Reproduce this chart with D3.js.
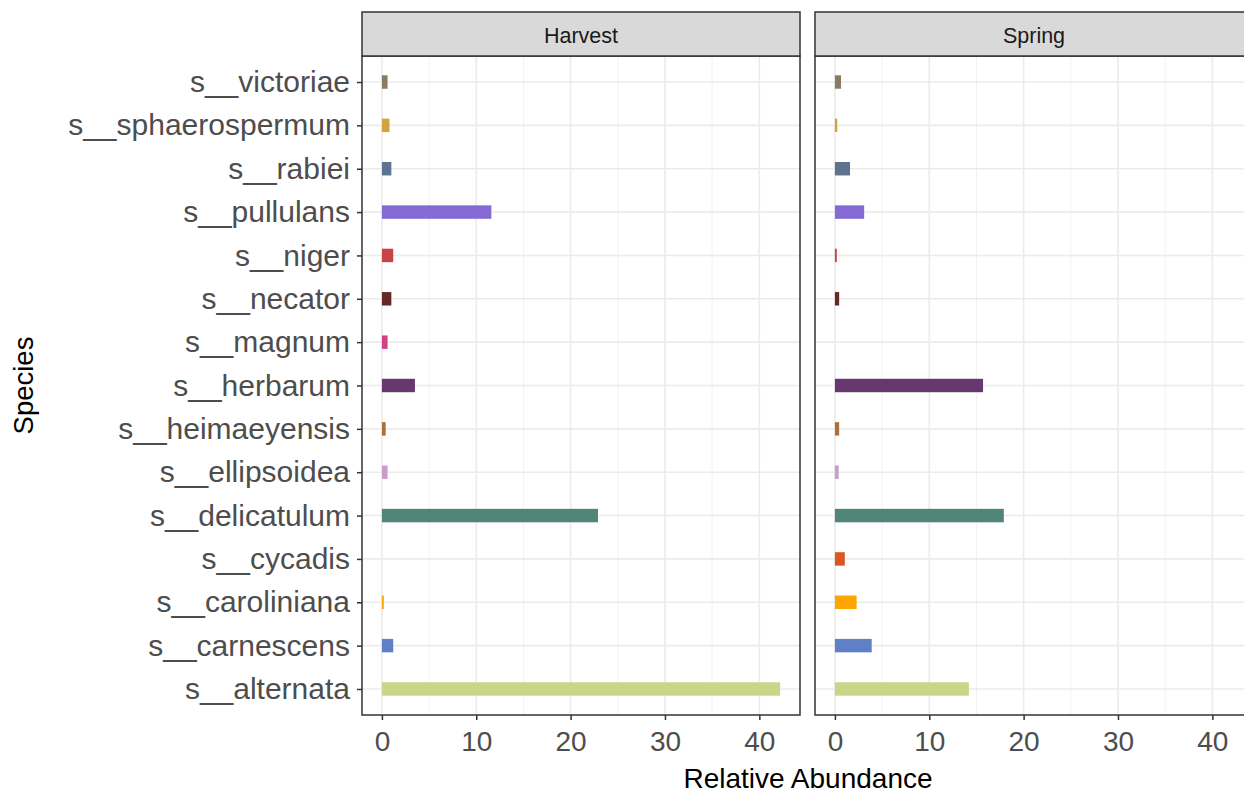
<!DOCTYPE html>
<html><head><meta charset="utf-8">
<script src="https://cdn.jsdelivr.net/npm/d3@7"></script>
<style>body{margin:0;background:#fff}svg{display:block;font-family:"Liberation Sans",Arial,sans-serif}</style>
</head><body><svg id="c" width="1244" height="794"></svg>
<script>
const species = ["s__alternata","s__carnescens","s__caroliniana","s__cycadis","s__delicatulum","s__ellipsoidea","s__heimaeyensis","s__herbarum","s__magnum","s__necator","s__niger","s__pullulans","s__rabiei","s__sphaerospermum","s__victoriae"];
const colors = ["#CBD588","#5F7FC7","#FFA500","#DA5724","#508578","#CD9BCD","#AD6F3B","#673770","#D14285","#652926","#C84248","#8569D5","#5E738F","#D1A33D","#8A7C64"];
const panels = ["Harvest","Spring"];
const harvest = [42.2,1.2,0.2,0,22.9,0.6,0.4,3.5,0.6,1.0,1.2,11.6,1.0,0.8,0.6];
const spring = [14.2,3.9,2.3,1.05,17.9,0.4,0.45,15.7,0,0.45,0.2,3.1,1.6,0.25,0.65];
const xTicks = [0,10,20,30,40];
const xMinor = [5,15,25,35];

const svg = d3.select("#c");
const panelW = 438, pTop = 56, pBottom = 715, stripTop = 12;
const lefts = [362, 815];
const y = d3.scalePoint().domain(species.slice().reverse()).range([pTop, pBottom]).padding(0.6);
const step = y.step();
const barH = step*0.31;
const series = [harvest, spring];
const FF = "Liberation Sans, Arial, sans-serif";

panels.forEach((p,pi)=>{
  const L = lefts[pi];
  const x = d3.scaleLinear().domain([-2.11, 44.31]).range([L, L+panelW]);
  const g = svg.append("g");
  g.append("rect").attr("x",L).attr("y",pTop).attr("width",panelW).attr("height",pBottom-pTop).attr("fill","#fff");
  g.selectAll(".mn").data(xMinor).join("line").attr("x1",d=>x(d)).attr("x2",d=>x(d)).attr("y1",pTop).attr("y2",pBottom).attr("stroke","#f2f2f2").attr("stroke-width",1);
  g.selectAll(".mj").data(xTicks).join("line").attr("x1",d=>x(d)).attr("x2",d=>x(d)).attr("y1",pTop).attr("y2",pBottom).attr("stroke","#ebebeb").attr("stroke-width",1.6);
  g.selectAll(".hy").data(species).join("line").attr("x1",L).attr("x2",L+panelW).attr("y1",d=>y(d)).attr("y2",d=>y(d)).attr("stroke","#ebebeb").attr("stroke-width",1.6);
  g.selectAll(".bar").data(species.map((s,i)=>({s,v:series[pi][i],c:colors[i]})).filter(d=>d.v>0)).join("rect")
    .attr("x",x(0)).attr("y",d=>y(d.s)-barH/2).attr("width",d=>x(d.v)-x(0)).attr("height",barH).attr("fill",d=>d.c);
  g.append("rect").attr("x",L).attr("y",pTop).attr("width",panelW).attr("height",pBottom-pTop).attr("fill","none").attr("stroke","#333").attr("stroke-width",1.5);
  g.append("rect").attr("x",L).attr("y",stripTop).attr("width",panelW).attr("height",pTop-stripTop).attr("fill","#d9d9d9").attr("stroke","#333").attr("stroke-width",1.5);
  g.append("text").attr("x",L+panelW/2).attr("y",43).attr("text-anchor","middle").attr("font-size",21.5).attr("fill","#1a1a1a").text(p);
  const ax = d3.axisBottom(x).tickValues(xTicks).tickSize(5).tickPadding(4);
  const ag = svg.append("g").attr("transform",`translate(0,${pBottom})`).call(ax);
  ag.select(".domain").remove();
  ag.selectAll(".tick line").attr("stroke","#333").attr("stroke-width",1.5);
  ag.selectAll(".tick text").attr("font-size",28).attr("fill","#4d4d4d").attr("font-family",FF).attr("dy",null).attr("y",36);
});

const yax = d3.axisLeft(y).tickSize(5).tickPadding(7);
const yg = svg.append("g").attr("transform",`translate(${lefts[0]},0)`).call(yax);
yg.select(".domain").remove();
yg.selectAll(".tick line").attr("stroke","#333").attr("stroke-width",1.5);
yg.selectAll(".tick text").attr("font-size",30).attr("fill","#4d4d4d").attr("font-family",FF);

svg.append("text").attr("x",808).attr("y",788).attr("text-anchor","middle").attr("font-size",28).attr("fill","#000").text("Relative Abundance");
svg.append("text").attr("transform",`translate(33,${(pTop+pBottom)/2}) rotate(-90)`).attr("text-anchor","middle").attr("font-size",27.5).attr("fill","#000").text("Species");
</script></body></html>
